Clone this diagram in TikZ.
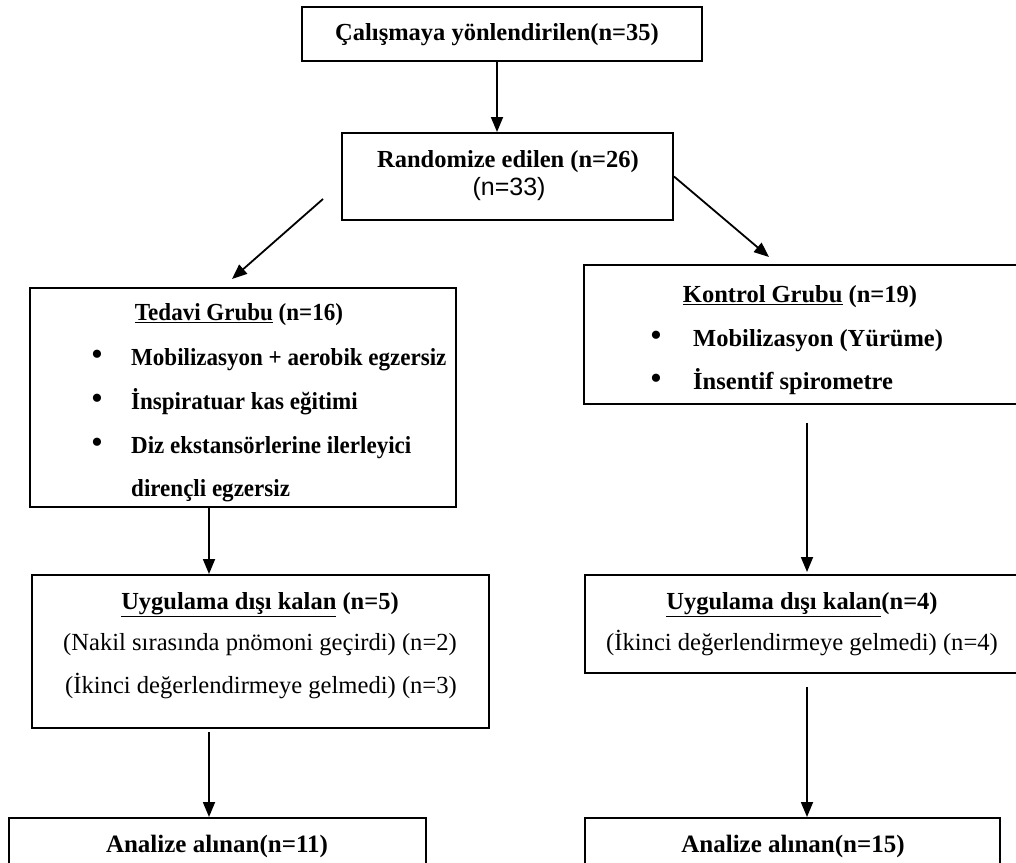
\documentclass[tikz,border=0pt]{standalone}
\usepackage{fontspec}
\setmainfont{Liberation Serif}
\newfontfamily\arialf{Liberation Sans}
\newfontfamily\condserif[FakeStretch=0.94]{Liberation Serif}
\usetikzlibrary{arrows.meta,calc}
\tikzset{
  box/.style={draw=black, line width=2pt, rectangle, inner sep=0pt},
  arr/.style={draw=black, line width=1.8pt, -{Triangle[length=15pt,width=12pt]}},
  bt/.style={inner sep=0pt, anchor=base, font=\fontsize{24.5}{28}\selectfont\bfseries},
  bts/.style={inner sep=0pt, anchor=base west, font=\fontsize{24.5}{28}\selectfont\condserif\bfseries},
  btr/.style={inner sep=0pt, anchor=base west, font=\fontsize{24.5}{28}\selectfont\bfseries},
  rt/.style={inner sep=0pt, anchor=base, font=\fontsize{24.6}{28}\selectfont},
  sanstext/.style={inner sep=0pt, anchor=base, font=\fontsize{25}{28}\selectfont\arialf},
  bul/.style={inner sep=0pt, font=\fontsize{34}{36}\selectfont},
}
\begin{document}
\begin{tikzpicture}[x=1pt,y=-1pt]
\useasboundingbox (0,0) rectangle (1016,862);
\clip (0,0) rectangle (1016,862);
\fill[white] (0,0) rectangle (1016,862);
% boxes
\node[box, minimum width=400pt, minimum height=54pt] (top) at (502,34) {};
\node[box, minimum width=331pt, minimum height=87pt] (rand) at (507.5,176.5) {};
\node[box, minimum width=426pt, minimum height=219pt] (ted) at (243,397.5) {};
\node[box, minimum width=446pt, minimum height=139pt] (kon) at (807,334.5) {};
\node[box, minimum width=457pt, minimum height=153pt] (uygL) at (260.5,651.5) {};
\node[box, minimum width=445pt, minimum height=98pt] (uygR) at (807.5,624) {};
\node[box, minimum width=417pt, minimum height=92pt] (anL) at (217.5,864) {};
\node[box, minimum width=415pt, minimum height=92pt] (anR) at (792.5,864) {};
% texts
\node[bt] (tTop) at (497,40) {Çalışmaya yönlendirilen(n=35)};
\node[bt] (tRand) at (508,167) {Randomize edilen (n=26)};
\node[sanstext] (tRand2) at (509,195) {(n=33)};
\node[bt, font=\fontsize{24.5}{28}\selectfont\condserif\bfseries] (tTed) at (239,320) {\underline{Tedavi Grubu} (n=16)};
\node[bul] (bT1) at (97,358) {\textbullet};
\node[bts] (lT1) at (131,365) {Mobilizasyon + aerobik egzersiz};
\node[bul] (bT2) at (97,402) {\textbullet};
\node[bts] (lT2) at (131,409) {İnspiratuar kas eğitimi};
\node[bul] (bT3) at (97,446) {\textbullet};
\node[bts] (lT3) at (131,453) {Diz ekstansörlerine ilerleyici};
\node[bts] (lT4) at (131,496) {dirençli egzersiz};
\node[bt] (tKon) at (800,302) {\underline{Kontrol Grubu} (n=19)};
\node[bul] (bK1) at (656,339) {\textbullet};
\node[btr] (lK1) at (693,346) {Mobilizasyon (Yürüme)};
\node[bul] (bK2) at (656,382) {\textbullet};
\node[btr] (lK2) at (693,389) {İnsentif spirometre};
\node[bt] (tUL) at (260,609) {\underline{Uygulama dışı kalan} (n=5)};
\node[rt] (tUL2) at (260,650) {(Nakil sırasında pnömoni geçirdi) (n=2)};
\node[rt] (tUL3) at (261,693) {(İkinci değerlendirmeye gelmedi) (n=3)};
\node[bt] (tUR) at (802,609) {\underline{Uygulama dışı kalan}(n=4)};
\node[rt] (tUR2) at (802,650) {(İkinci değerlendirmeye gelmedi) (n=4)};
\node[bt, font=\fontsize{25}{28}\selectfont\bfseries] (tAL) at (217,852) {Analize alınan(n=11)};
\node[bt, font=\fontsize{25}{28}\selectfont\bfseries] (tAR) at (793,852) {Analize alınan(n=15)};
% connector helpers
\coordinate (colT) at (497,0);
\coordinate (colL) at (209,0);
\coordinate (colR) at (807,0);
\coordinate (d1s) at (323,199);
\coordinate (d1e) at (232,279);
\coordinate (d2e) at (769,257);
% connectors
\draw[arr] (top.south -| colT) -- (rand.north -| colT);
\draw[arr] (d1s) -- (d1e);
\draw[arr] (rand.east) -- (d2e);
\draw[arr] (ted.south -| colL) -- (uygL.north -| colL);
\draw[arr] ([yshift=-18pt]kon.south -| colR) -- ([yshift=2pt]uygR.north -| colR);
\draw[arr] ([yshift=-3pt]uygL.south -| colL) -- (anL.north -| colL);
\draw[arr] ([yshift=-13pt]uygR.south -| colR) -- (anR.north -| colR);
\end{tikzpicture}
\end{document}
